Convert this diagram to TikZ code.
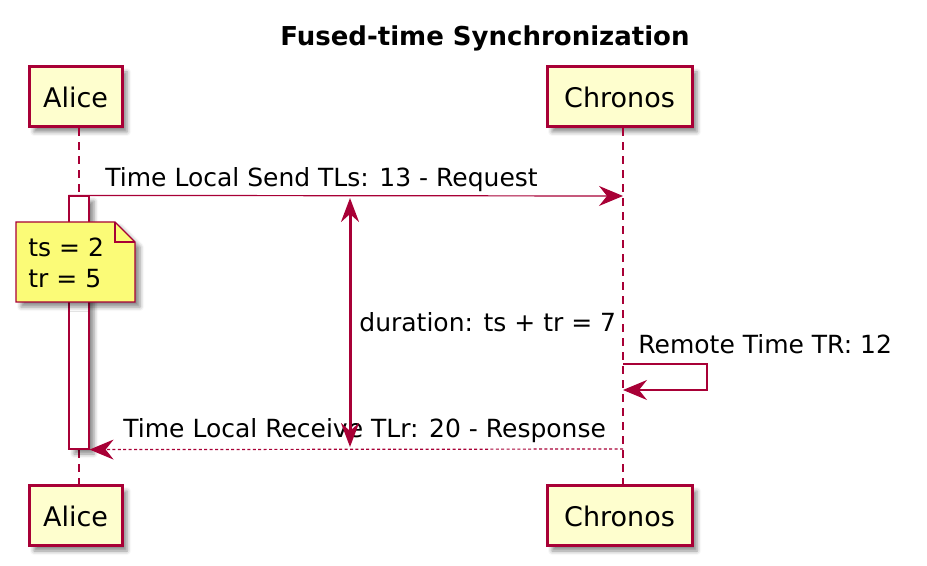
\documentclass[tikz,border=0pt]{standalone}
\usepackage{fontspec}
\setmainfont{DejaVu Sans}
\usetikzlibrary{arrows.meta, shadows.blur}
\definecolor{umlred}{RGB}{168,0,54}
\definecolor{umlbox}{RGB}{254,254,206}
\definecolor{umlnote}{RGB}{251,251,119}

\begin{document}
\begin{tikzpicture}[x=0.5pt, y=-0.5pt, font=\fontsize{12.5}{15}\selectfont]
	\tikzset{shade/.style={blur shadow={shadow xshift=2.5pt, shadow yshift=-2.5pt, shadow blur radius=2pt, shadow opacity=45}}}
	\tikzset{actor/.style={draw=umlred, fill=umlbox, line width=1.5pt, minimum height=30pt, inner sep=0pt, font=\fontsize{13.5}{16}\selectfont, shade}}
	\tikzset{lifeline/.style={umlred, line width=0.6pt, dash pattern=on 4pt off 3pt}}
	\tikzset{msg/.style={umlred, line width=0.6pt, -{Stealth[length=12pt, width=10pt, inset=4pt]}}}
	\tikzset{msglabel/.style={inner sep=0pt, anchor=base west}}
	\useasboundingbox (0,0) rectangle (927,566);
	
	\node(title) at (485,38) [font=\bfseries\fontsize{13}{16}\selectfont] {Fused-time Synchronization};
	
	\node(alice) at (75.5,97) [actor, minimum width=46.5pt] {Alice};
	\node(chronos) at (619.5,97) [actor, minimum width=72.5pt] {Chronos};
	\node(alice_b) at (75.5,516) [actor, minimum width=46.5pt] {Alice};
	\node(chronos_b) at (619.5,516) [actor, minimum width=72.5pt] {Chronos};
	\draw[lifeline] ([xshift=1.75pt]alice.south) -- ([xshift=1.75pt]alice_b.north);
	\draw[lifeline] ([xshift=1.75pt]chronos.south) -- ([xshift=1.75pt]chronos_b.north);
	
	\node(act) at (79,322.5) [draw=umlred, fill=white, line width=0.6pt, minimum width=10pt, minimum height=126.5pt, inner sep=0pt, shade] {};
	
	% note on alice
	\filldraw[draw=umlred, fill=umlnote, line width=0.6pt, shade] (16,222) -- (115,222) -- (135,242) -- (135,302) -- (16,302) -- cycle;
	\draw[umlred, line width=0.6pt] (115,222) -- (115,242) -- (135,242);
	\node(ts) at (28,257) [msglabel] {ts = 2};
	\node(tr) at (28,288) [msglabel] {tr = 5};
	
	\coordinate(req_end) at (623,196);
	\draw[msg] (act.north west) -- (req_end);
	\node(req) at (105,187) [msglabel] {Time Local Send TLs: 13 - Request};
	
	\coordinate(self_a) at (623,364);
	\coordinate(self_b) at (623,390);
	\draw[msg] (self_a) -- ++(84,0) |- (self_b);
	\node(remote) at (638,354) [msglabel] {Remote Time TR: 12};
	
	\coordinate(resp_start) at (623,449);
	\draw[msg, dash pattern=on 1.5pt off 1.2pt] (resp_start) -- (act.south east);
	\node(resp) at (123,438) [msglabel] {Time Local Receive TLr: 20 - Response};
	
	\coordinate(dur_top) at (350,198);
	\coordinate(dur_bot) at (350,447);
	\node(dur) at (359,332) [msglabel] {duration: ts + tr = 7};
	\draw[umlred, line width=1.5pt, {Stealth[length=12pt, width=9pt, inset=4pt]}-{Stealth[length=12pt, width=9pt, inset=4pt]}] (dur_top) -- (dur_bot);
	
\end{tikzpicture}
\end{document}
